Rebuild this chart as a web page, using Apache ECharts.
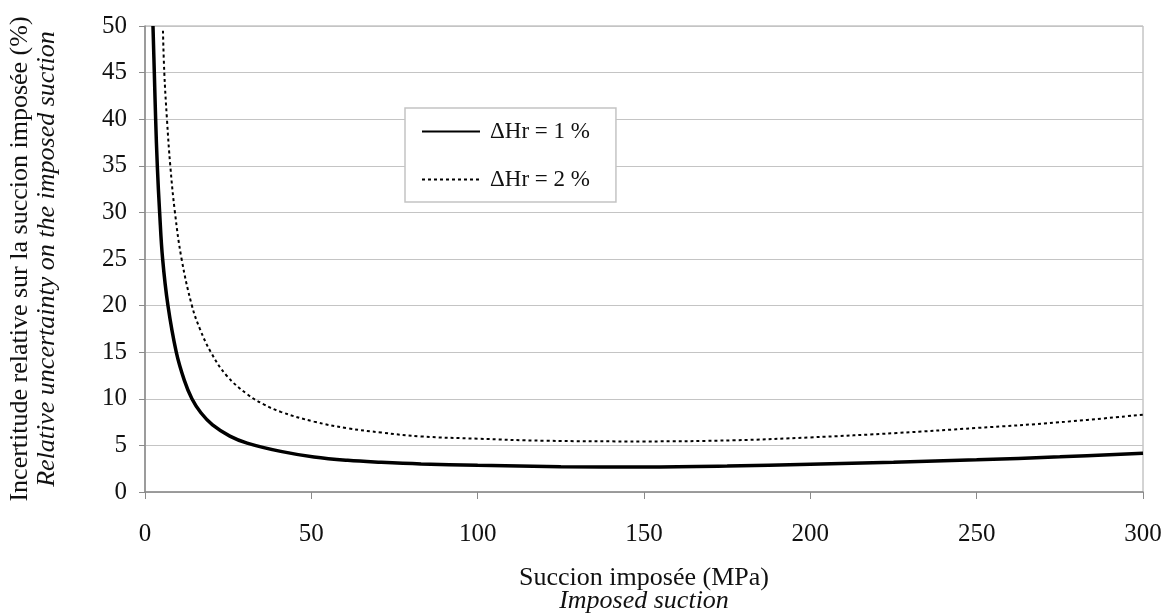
<!DOCTYPE html>
<html>
<head>
<meta charset="utf-8">
<script src="https://cdn.jsdelivr.net/npm/echarts@6/dist/echarts.min.js"></script>
<style>html,body{margin:0;padding:0;background:#fff}#c{width:1167px;height:615px}</style>
</head>
<body>
<div id="c"></div>
<script>
const seriesNames = ['ΔHr = 1 %', 'ΔHr = 2 %'];
const xTicks = [0, 50, 100, 150, 200, 250, 300];
const yTicks = [0, 5, 10, 15, 20, 25, 30, 35, 40, 45, 50];
const xTitle = ['Succion imposée (MPa)', 'Imposed suction'];
const yTitle = ['Incertitude relative sur la succion imposée (%)', 'Relative uncertainty on the imposed suction'];

// suction (MPa), relative uncertainty (%)
const dHr1 = [
  [2.4,50],[2.8,45],[3.2,40],[3.7,35],[4.4,30],[5.3,25],[6.9,20],[9.4,15],[11.8,12],
  [14.1,10],[16.8,8.5],[20.3,7.2],[25.5,6.0],[30.7,5.25],[40.8,4.36],[50.8,3.76],[60.9,3.4],
  [71,3.19],[83,3.01],[100,2.86],[125,2.72],[150,2.68],[175,2.78],[200,2.99],[225,3.2],
  [250,3.45],[275,3.78],[300,4.17]
];
const dHr2 = [
  [5.4,49.5],[5.8,45],[6.6,40],[7.6,35],[9.0,30],[11.0,25],[14.1,20],[16.5,17.5],
  [19.8,15],[24.5,12.5],[30.7,10.5],[35.7,9.4],[40.8,8.6],[50.8,7.55],[60.9,6.84],[71,6.38],
  [83,5.96],[100,5.72],[120,5.5],[150,5.43],[177,5.55],[200,5.86],[226,6.33],[250,6.87],
  [275,7.48],[300,8.3]
];

const FONT = '"Liberation Serif", "Times New Roman", serif';
const chart = echarts.init(document.getElementById('c'), null, {renderer: 'canvas'});
chart.setOption({
  animation: false,
  backgroundColor: '#fff',
  textStyle: {fontFamily: FONT, color: '#000'},
  grid: {left: 145, right: 24, top: 26, bottom: 123, show: true, borderColor: '#a8a8a8', borderWidth: 1,
         containLabel: false, outerBoundsMode: 'none'},
  legend: {
    orient: 'vertical', left: 405, top: 108,
    backgroundColor: '#fff', borderColor: '#c4c4c4', borderWidth: 1.5,
    padding: [12, 26, 11, 16], itemGap: 25, itemWidth: 58, itemHeight: 14,
    itemStyle: {color: 'transparent', borderWidth: 0, opacity: 0},
    textStyle: {fontFamily: FONT, fontSize: 23, color: '#111', padding: [0, 0, 0, 5]},
    data: seriesNames
  },
  xAxis: {
    type: 'value', min: xTicks[0], max: xTicks[xTicks.length - 1], interval: 50,
    name: '{a|' + xTitle[0] + '}\n{b|' + xTitle[1] + '}',
    nameLocation: 'middle', nameGap: 75,
    nameTextStyle: {rich: {
      a: {fontFamily: FONT, fontSize: 26, color: '#111', lineHeight: 23},
      b: {fontFamily: FONT, fontSize: 26, fontStyle: 'italic', color: '#111', lineHeight: 23}
    }},
    axisLine: {show: true, lineStyle: {color: '#8a8a8a', width: 1.5}},
    axisTick: {show: true, length: 7, lineStyle: {color: '#8a8a8a'}},
    axisLabel: {fontFamily: FONT, fontSize: 25, color: '#111', margin: 30},
    splitLine: {show: false}
  },
  yAxis: {
    type: 'value', min: yTicks[0], max: yTicks[yTicks.length - 1], interval: 5,
    name: '{a|' + yTitle[0] + '}\n{b|' + yTitle[1] + '}',
    nameLocation: 'middle', nameGap: 84, nameRotate: 90,
    nameTextStyle: {rich: {
      a: {fontFamily: FONT, fontSize: 26, color: '#111', lineHeight: 27},
      b: {fontFamily: FONT, fontSize: 26, fontStyle: 'italic', color: '#111', lineHeight: 27}
    }},
    axisLine: {show: true, lineStyle: {color: '#8a8a8a', width: 1.5}},
    axisTick: {show: true, length: 6, lineStyle: {color: '#8a8a8a'}},
    axisLabel: {fontFamily: FONT, fontSize: 25, color: '#111', margin: 18},
    splitLine: {show: true, lineStyle: {color: '#c4c4c4', width: 1.2}}
  },
  series: [
    {name: seriesNames[0], type: 'line', data: dHr1, smooth: 0.4, symbol: 'none', clip: true,
     lineStyle: {color: '#000', width: 3.5}, itemStyle: {color: '#000'}},
    {name: seriesNames[1], type: 'line', data: dHr2, smooth: 0.4, symbol: 'none', clip: true,
     lineStyle: {color: '#000', width: 2, type: [3, 3]}, itemStyle: {color: '#000'}}
  ]
});
</script>
</body>
</html>
